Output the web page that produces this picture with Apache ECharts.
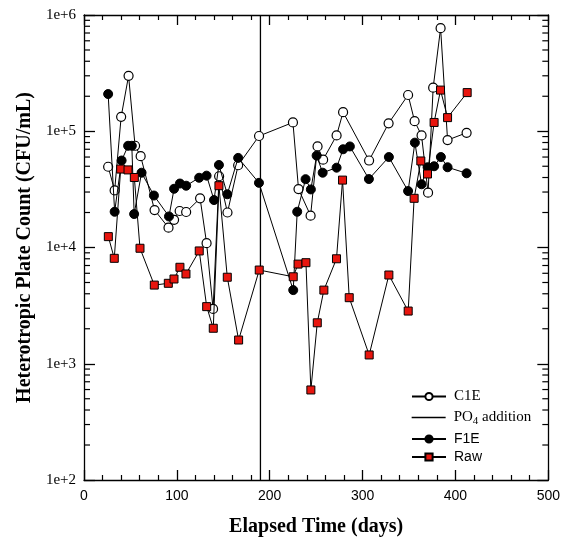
<!DOCTYPE html>
<html><head><meta charset="utf-8">
<script src="https://cdn.jsdelivr.net/npm/echarts@6/dist/echarts.min.js"></script>
<style>html,body{margin:0;padding:0;background:#fff}#c{width:563px;height:546px}</style>
</head><body><div id="c"></div>
<script>
// ---- data ----
const c1eDays   = [26, 33, 40, 48, 55, 61, 76, 91, 97, 103, 110, 125, 132, 139, 145.5, 154.5, 166, 188.5, 225, 231, 244, 251.5, 257.5, 272, 279, 307, 328, 349, 356, 363.5, 370.5, 376, 384, 391.5, 412];
const c1eValues = [4.95e4, 3.1e4, 1.33e5, 3.0e5, 7.5e4, 6.1e4, 2.1e4, 1.48e4, 1.73e4, 2.06e4, 2.02e4, 2.65e4, 1.09e4, 2.96e3, 4.1e4, 2.0e4, 5.1e4, 9.1e4, 1.19e5, 3.18e4, 1.88e4, 7.4e4, 5.7e4, 9.2e4, 1.46e5, 5.6e4, 1.17e5, 2.05e5, 1.22e5, 9.2e4, 2.96e4, 2.37e5, 7.7e5, 8.4e4, 9.7e4];

const f1eDays   = [26, 33, 40.5, 47.5, 51.5, 54, 62, 75.3, 91.5, 97, 103.3, 110, 124, 132, 140, 145.3, 154.3, 166, 188.4, 225.3, 229.6, 238.6, 244.3, 250.5, 257, 272, 279, 286.3, 306.8, 328.3, 349, 356.3, 363.5, 370, 377, 384.3, 391.5, 412];
const f1eValues = [2.09e5, 2.03e4, 5.6e4, 7.5e4, 7.5e4, 1.94e4, 4.4e4, 2.8e4, 1.85e4, 3.2e4, 3.55e4, 3.4e4, 3.98e4, 4.15e4, 2.56e4, 5.13e4, 2.87e4, 5.9e4, 3.6e4, 4.3e3, 2.03e4, 3.87e4, 3.16e4, 6.17e4, 4.4e4, 4.86e4, 7.0e4, 7.4e4, 3.88e4, 6.0e4, 3.06e4, 7.98e4, 3.5e4, 4.9e4, 5.0e4, 6.0e4, 4.9e4, 4.35e4];

const rawDays   = [26.2, 32.6, 39.5, 47.4, 54.2, 60.3, 75.7, 90.8, 96.9, 103.3, 109.8, 124.1, 132.1, 139.2, 145.3, 154.3, 166.5, 188.7, 225.3, 230.5, 239, 244.3, 251.2, 258.3, 271.9, 278.4, 285.6, 307.1, 328.3, 349.1, 355.5, 362.7, 369.9, 377, 383.9, 391.5, 412.6];
const rawValues = [1.24e4, 8.07e3, 4.73e4, 4.65e4, 4.0e4, 9.85e3, 4.75e3, 4.92e3, 5.36e3, 6.76e3, 5.92e3, 9.34e3, 3.1e3, 2.02e3, 3.4e4, 5.55e3, 1.6e3, 6.4e3, 5.6e3, 7.2e3, 7.4e3, 5.95e2, 2.25e3, 4.3e3, 8.0e3, 3.8e4, 3.7e3, 1.19e3, 5.8e3, 2.84e3, 2.65e4, 5.55e4, 4.29e4, 1.19e5, 2.26e5, 1.31e5, 2.15e5];

const po4Day = 190;
const xTickLabels = ['0', '100', '200', '300', '400', '500'];
const yTickLabels = ['1e+2', '1e+3', '1e+4', '1e+5', '1e+6'];
const seriesNames = ['C1E', 'PO4 addition', 'F1E', 'Raw'];

// ---- helpers ----
const zip = (xs, ys) => xs.map((x, i) => [x, ys[i]]);
const yMin = 100, yMax = 1e6, xMin = 0, xMax = 500;
// log minor tick positions (2..9 per decade) - axis decoration only
const minorY = [];
for (let d = 100; d < yMax; d *= 10) for (let k = 2; k <= 9; k++) minorY.push([xMin, d * k]);

const SERIF = '"Liberation Serif", "Times New Roman", serif';
const SANS = '"Liberation Sans", Arial, sans-serif';

const chart = echarts.init(document.getElementById('c'), null, {renderer: 'canvas'});

const axisLine = {show: true, onZero: false, lineStyle: {color: '#000', width: 1.3}};
function legendBox(name, top, font, size, extra) {
  return Object.assign({
    data: [name], left: 411, top: top, orient: 'vertical', padding: 0,
    itemWidth: 34, itemHeight: 9, selectedMode: false,
    textStyle: {fontFamily: font, fontSize: size, color: '#000', padding: [0, 0, 0, 3]}
  }, extra || {});
}

const option = {
  animation: false,
  backgroundColor: '#fff',
  grid: {left: 84, right: 14.5, top: 15, bottom: 66, containLabel: false},
  legend: [
    legendBox('C1E', 389, SERIF, 15),
    legendBox('PO4 addition', 410, SERIF, 15, {
      itemStyle: {opacity: 0, borderWidth: 0},
      lineStyle: {color: '#000', width: 1.3, opacity: 1},
      formatter: () => '{a|PO}{s|4}{a| addition}',
      textStyle: {fontFamily: SERIF, fontSize: 15, color: '#000', padding: [0, 0, 0, 3],
        rich: {
          a: {fontFamily: SERIF, fontSize: 15, color: '#000', lineHeight: 18, verticalAlign: 'middle'},
          s: {fontFamily: SERIF, fontSize: 11, color: '#000', lineHeight: 11, verticalAlign: 'bottom'}
        }}
    }),
    legendBox('F1E', 432, SANS, 14),
    legendBox('Raw', 450, SANS, 14)
  ],
  xAxis: [{
    type: 'value', min: xMin, max: xMax, interval: 100, position: 'bottom',
    name: 'Elapsed Time (days)', nameLocation: 'middle', nameGap: 37,
    nameTextStyle: {fontFamily: SERIF, fontWeight: 'bold', fontSize: 20, color: '#000'},
    axisLine: axisLine,
    axisTick: {show: true, inside: true, length: 10, lineStyle: {color: '#000', width: 1.3}},
    minorTick: {show: true, splitNumber: 5, length: 5, lineStyle: {color: '#000', width: 1.2}},
    axisLabel: {fontFamily: SANS, fontSize: 14, color: '#000', margin: 9,
      formatter: v => xTickLabels[Math.round(v / 100)]},
    splitLine: {show: false}
  }, {
    type: 'value', min: xMin, max: xMax, interval: 100, position: 'top',
    axisLine: axisLine,
    axisTick: {show: true, inside: true, length: 10, lineStyle: {color: '#000', width: 1.3}},
    minorTick: {show: true, splitNumber: 5, length: 5, lineStyle: {color: '#000', width: 1.2}},
    axisLabel: {show: false}, splitLine: {show: false}
  }],
  yAxis: [{
    type: 'log', logBase: 10, min: yMin, max: yMax, position: 'left',
    name: 'Heterotropic Plate Count (CFU/mL)', nameLocation: 'middle', nameGap: 48, nameRotate: 90,
    nameTextStyle: {fontFamily: SERIF, fontWeight: 'bold', fontSize: 20, color: '#000'},
    axisLine: axisLine,
    axisTick: {show: true, inside: true, length: 11, lineStyle: {color: '#000', width: 1.3}},
    axisLabel: {fontFamily: SERIF, fontSize: 15, color: '#000', margin: 8,
      formatter: v => yTickLabels[Math.round(Math.log10(v)) - 2]},
    splitLine: {show: false}
  }, {
    type: 'log', logBase: 10, min: yMin, max: yMax, position: 'right',
    axisLine: axisLine,
    axisTick: {show: true, inside: true, length: 11, lineStyle: {color: '#000', width: 1.3}},
    axisLabel: {show: false}, splitLine: {show: false}
  }],
  series: [
    {
      type: 'custom', name: '_minorY', silent: true, clip: false, z: 1,
      data: minorY,
      renderItem: (params, api) => {
        const v = api.value(1);
        const pl = api.coord([xMin, v]);
        const pr = api.coord([xMax, v]);
        return {type: 'group', children: [
          {type: 'line', shape: {x1: pl[0], y1: pl[1], x2: pl[0] + 6, y2: pl[1]}, style: {stroke: '#000', lineWidth: 1.2}},
          {type: 'line', shape: {x1: pr[0], y1: pr[1], x2: pr[0] - 6, y2: pr[1]}, style: {stroke: '#000', lineWidth: 1.2}}
        ]};
      }
    },
    {
      type: 'line', name: seriesNames[0], data: zip(c1eDays, c1eValues),
      symbol: 'circle', symbolSize: 9,
      itemStyle: {color: '#fff', borderColor: '#000', borderWidth: 1.2},
      lineStyle: {color: '#000', width: 1}, z: 3
    },
    {
      type: 'line', name: seriesNames[1], data: [[po4Day, yMin], [po4Day, yMax]],
      symbol: 'none', showSymbol: false, lineStyle: {color: '#000', width: 1.3}, itemStyle: {color: '#000'}, z: 2
    },
    {
      type: 'line', name: seriesNames[2], data: zip(f1eDays, f1eValues),
      symbol: 'circle', symbolSize: 9,
      itemStyle: {color: '#000', borderColor: '#000', borderWidth: 1},
      lineStyle: {color: '#000', width: 1}, z: 4
    },
    {
      type: 'line', name: seriesNames[3], data: zip(rawDays, rawValues),
      symbol: 'rect', symbolSize: 8,
      itemStyle: {color: '#e8150e', borderColor: '#000', borderWidth: 1},
      lineStyle: {color: '#000', width: 1}, z: 5
    }
  ]
};
chart.setOption(option);
</script>
</body></html>
